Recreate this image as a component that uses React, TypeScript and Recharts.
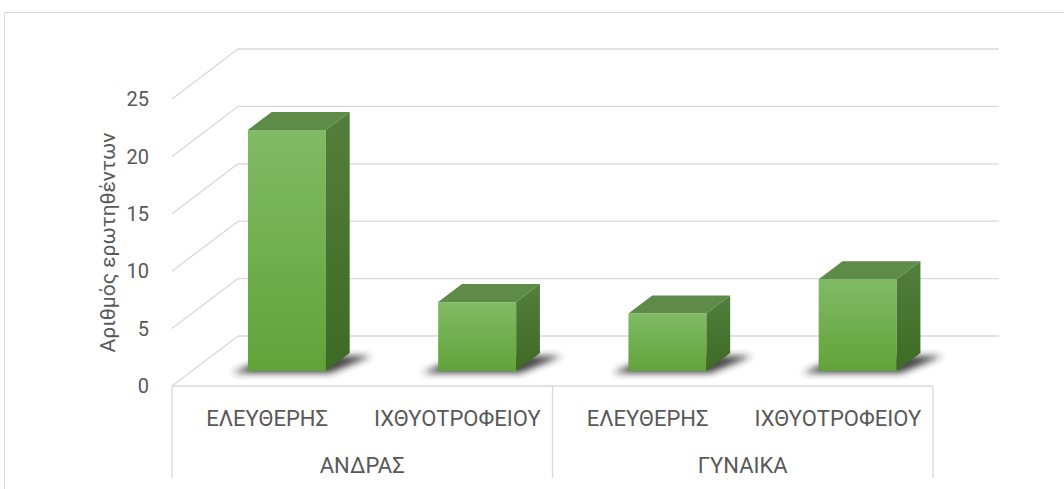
import React from 'react';
import { BarChart, Bar, XAxis, YAxis, CartesianGrid } from 'recharts';

// categorías y valores
const categories = ['ΕΛΕΥΘΕΡΗΣ', 'ΙΧΘΥΟΤΡΟΦΕΙΟΥ', 'ΕΛΕΥΘΕΡΗΣ', 'ΙΧΘΥΟΤΡΟΦΕΙΟΥ'];
const groups = ['ΑΝΔΡΑΣ', 'ΑΝΔΡΑΣ', 'ΓΥΝΑΙΚΑ', 'ΓΥΝΑΙΚΑ'];
const respondents = [21, 6, 5, 8];
const yTicks = [0, 5, 10, 15, 20, 25];
const yTitle = 'Αριθμός ερωτηθέντων';

const data = categories.map((name, i) => ({ name, group: groups[i], value: respondents[i] }));

const W = 1064;
const H = 489;
const PLOT_LEFT = 172;
const PLOT_RIGHT = 933;
const PLOT_TOP = 99;
const PLOT_BOTTOM = 386;
const TABLE_BOTTOM = 478;
const Y_AXIS_W = 128;
const BAND = (PLOT_RIGHT - PLOT_LEFT) / categories.length;

// desplazamiento de la pared del fondo (efecto 3D)
const DEPTH_X = 66;
const DEPTH_Y = -50;
const BAR_FRONT = 0.3;
const BAR_BACK = 0.66;

const GRID = '#d9d9d9';
const TEXT = '#595959';
const FONT = "Roboto, 'Liberation Sans', Arial, sans-serif";

const gridLine = (props: any) => {
  const { x1, x2, y1, index } = props;
  const bx = x1 + DEPTH_X;
  const by = y1 + DEPTH_Y;
  return (
    <g key={`grid-${index}`}>
      <line x1={x1} y1={y1} x2={bx} y2={by} stroke={GRID} strokeWidth={1.3} />
      <line x1={bx} y1={by} x2={x2 + DEPTH_X} y2={by} stroke={GRID} strokeWidth={1.3} />
    </g>
  );
};

const Box3D = (props: any) => {
  const { x, y, width, height, index } = props;
  if (height == null || height <= 0) return null;
  const fx = x + DEPTH_X * BAR_FRONT;
  const fy = y + DEPTH_Y * BAR_FRONT;
  const bottom = fy + height;
  const dx = DEPTH_X * (BAR_BACK - BAR_FRONT);
  const dy = DEPTH_Y * (BAR_BACK - BAR_FRONT);
  const id = `b${index}`;
  const top = `${fx},${fy} ${fx + dx},${fy + dy} ${fx + width + dx},${fy + dy} ${fx + width},${fy}`;
  const side = `${fx + width},${fy} ${fx + width + dx},${fy + dy} ${fx + width + dx},${bottom + dy} ${fx + width},${bottom}`;
  const shadow = `${fx - 16},${bottom + 2} ${fx + width + 4},${bottom + 2} ${fx + width + dx + 22},${bottom + dy + 3} ${fx + dx},${bottom + dy + 3}`;
  return (
    <g>
      <defs>
        <linearGradient id={`${id}-front`} x1="0" y1="0" x2="0" y2="1">
          <stop offset="0%" stopColor="#81bb65" />
          <stop offset="100%" stopColor="#62a23a" />
        </linearGradient>
        <linearGradient id={`${id}-side`} x1="0" y1="0" x2="0" y2="1">
          <stop offset="0%" stopColor="#527f3c" />
          <stop offset="100%" stopColor="#3d6a24" />
        </linearGradient>
        <filter id={`${id}-blur`} x="-50%" y="-50%" width="200%" height="200%">
          <feGaussianBlur stdDeviation="3.5" />
        </filter>
      </defs>
      <polygon points={shadow} fill="#222" opacity={0.85} filter={`url(#${id}-blur)`} />
      <rect x={fx} y={fy} width={width} height={height} fill={`url(#${id}-front)`} />
      <polygon points={top} fill="#5f8b48" />
      <polygon points={side} fill={`url(#${id}-side)`} />
    </g>
  );
};

const CategoryTick = (props: any) => {
  const { x, y, payload } = props;
  const i = payload.index;
  const left = x - BAND / 2;
  const right = x + BAND / 2;
  const firstOfGroup = i === 0 || groups[i - 1] !== groups[i];
  const last = i === categories.length - 1;
  let n = 1;
  while (groups[i + n] === groups[i]) n++;
  return (
    <g>
      <text x={x} y={y + 32} textAnchor="middle" dominantBaseline="central" fill={TEXT} fontSize={22} fontFamily={FONT}>
        {payload.value}
      </text>
      {firstOfGroup && (
        <>
          <line x1={left} x2={left} y1={y} y2={TABLE_BOTTOM} stroke={GRID} strokeWidth={1.3} />
          <text x={left + (n * BAND) / 2} y={y + 79} textAnchor="middle" dominantBaseline="central" fill={TEXT} fontSize={22} fontFamily={FONT}>
            {groups[i]}
          </text>
        </>
      )}
      {last && <line x1={right} x2={right} y1={y} y2={TABLE_BOTTOM} stroke={GRID} strokeWidth={1.3} />}
    </g>
  );
};

export default function App() {
  return (
    <div style={{ position: 'absolute', left: 0, top: 0, width: W, height: H, overflow: 'hidden', background: '#fff' }}>
      {/* marco del gráfico */}
      <div style={{ position: 'absolute', left: 4, top: 12, width: W + 20, height: H + 20, border: `1px solid ${GRID}`, boxSizing: 'border-box' }} />
      <div style={{ position: 'absolute', left: 0, top: 0 }}>
        <BarChart
          width={W}
          height={H}
          data={data}
          margin={{ top: PLOT_TOP, right: W - PLOT_RIGHT, bottom: 0, left: PLOT_LEFT - Y_AXIS_W }}
          barCategoryGap="29.5%"
        >
          <CartesianGrid vertical={false} horizontal={gridLine} />
          <XAxis
            dataKey="name"
            height={H - PLOT_BOTTOM}
            interval={0}
            tickLine={false}
            tickSize={0}
            tickMargin={0}
            axisLine={{ stroke: GRID, strokeWidth: 1.3 }}
            tick={<CategoryTick />}
          />
          <YAxis
            width={Y_AXIS_W}
            domain={[0, 25]}
            ticks={yTicks}
            axisLine={false}
            tickLine={false}
            tickSize={0}
            tickMargin={23}
            tick={{ fill: TEXT, fontSize: 20, fontFamily: FONT }}
            label={{ value: yTitle, angle: -90, position: 'center', fill: TEXT, fontSize: 21, fontFamily: FONT }}
          />
          <Bar dataKey="value" shape={<Box3D />} isAnimationActive={false} />
        </BarChart>
      </div>
    </div>
  );
}
